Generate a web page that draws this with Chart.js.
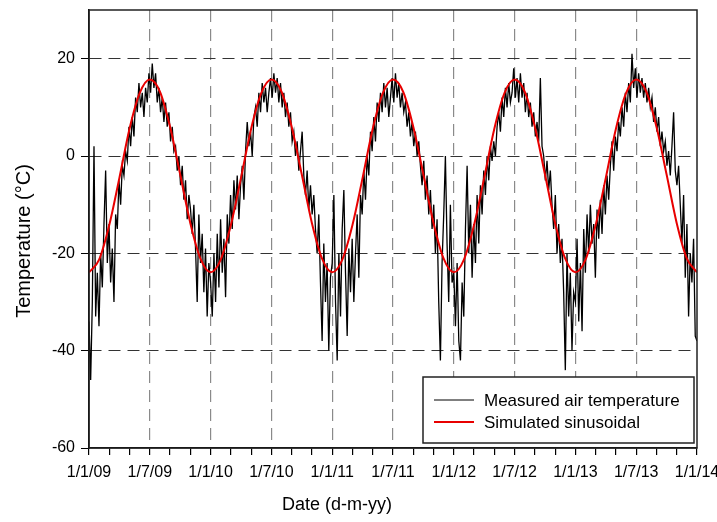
<!DOCTYPE html>
<html lang="en">
<head>
    <meta charset="UTF-8">
    <title>Measured vs simulated air temperature</title>
    <style>
        body { margin: 0; background: #fff; }
        #chart-container { width: 717px; height: 522px; }
    </style>
</head>
<body>
    <div id="chart-container">
        <canvas id="tempChart" width="717" height="522"></canvas>
    </div>

    <script src="https://cdn.jsdelivr.net/npm/chart.js"></script>

    <script>
        // Axis labels
        const xLabels = ['1/1/09', '1/7/09', '1/1/10', '1/7/10', '1/1/11', '1/7/11',
                         '1/1/12', '1/7/12', '1/1/13', '1/7/13', '1/1/14'];
        const yTicks = [-60, -40, -20, 0, 20];

        // Measured air temperature (°C), one value every 5 days from 1 January of each year
        const stepDays = 5;
        const measured2009 = [-34, -46, -30, 2, -33, -24, -35, -20, -27, -14, -3, -22, -14, -26, -19, -30, -12, -15, -5, -10,
                              -2, -4, 1, -1, 6, 2, 8, 4, 12, 9, 15, 10, 13, 8, 14, 11, 17, 13, 19, 14,
                              17, 11, 14, 9, 12, 7, 11, 6, 9, 3, 6, 1, 2, -3, 0, -6, -2, -9, -5, -13,
                              -8, -11, -16, -10, -19, -30, -12, -22, -16, -28, -19, -33, -22];
        const measured2010 = [-26, -33, -20, -30, -16, -27, -13, -24, -17, -29, -12, -18, -8, -15, -5, -11, -4, -13, -6, -2,
                              -9, 1, 7, 2, 5, 0, 8, 10, 6, 13, 9, 15, 11, 14, 9, 13, 16, 12, 17, 13,
                              16, 11, 15, 10, 13, 8, 11, 6, 9, 3, 5, 0, 3, -3, 1, 5, -4, -8, -3, -11,
                              -6, -12, -8, -15, -20, -12, -26, -38, -18, -30, -22, -40, -25];
        const measured2011 = [-22, -8, -30, -42, -20, -33, -15, -7, -24, -37, -19, -28, -17, -30, -20, -12, -25, -8, -12, -3,
                              -9, 0, -4, 5, 1, 8, 3, 11, 7, 13, 9, 15, 10, 14, 8, 12, 16, 11, 17, 12,
                              15, 10, 13, 9, 11, 6, 9, 4, 7, 2, 5, 0, 3, -2, -6, -1, -9, -4, -12, -7,
                              -15, -10, -20, -13, -30, -42, -22, -12, 0, -18, -30, -10, -26];
        const measured2012 = [-24, -35, -22, -38, -42, -26, -33, -15, -2, -20, -10, -25, -14, -22, -8, -18, -6, -12, -3, -8,
                              0, -5, 2, -1, 3, 0, 6, 9, 5, 12, 8, 14, 10, 15, 11, 13, 18, 12, 16, 11,
                              17, 12, 15, 9, 13, 8, 11, 6, 9, 4, 7, 3, 16, 2, 0, -5, -1, -7, -3, -10,
                              -15, -8, -20, -14, -22, -17, -28, -44, -20, -33, -24, -40, -28];
        const measured2013 = [-30, -17, -34, -22, -36, -15, -24, -12, -20, -10, -18, -14, -25, -11, -17, -9, -16, -6, -12, -4,
                              -9, -2, 3, -3, 4, 1, 7, 4, 10, 6, 13, 9, 15, 11, 21, 14, 18, 12, 17, 13,
                              16, 12, 15, 11, 14, 10, 12, 7, 10, 5, 8, 2, 5, 1, 3, -2, 1, -4, 2, 9,
                              -3, -6, -2, -10, -18, -8, -25, -14, -33, -20, -26, -17, -37];
        const measured2014 = [-38];

        // Simulated sinusoidal (°C), one value per month from 1/1/09 to 1/1/14
        const simulatedMonthly = [
            -23.9, -21.3, -14.2, -4.5, 5.6, 12.9, 15.7, 13.2, 6.0, -3.8, -13.8, -21.1,
            -23.9, -21.3, -14.2, -4.5, 5.6, 12.9, 15.7, 13.2, 6.0, -3.8, -13.8, -21.1,
            -23.9, -21.3, -14.2, -4.5, 5.6, 12.9, 15.7, 13.2, 6.0, -3.8, -13.8, -21.1,
            -23.9, -21.3, -14.2, -4.5, 5.6, 12.9, 15.7, 13.2, 6.0, -3.8, -13.8, -21.1,
            -23.9, -21.3, -14.2, -4.5, 5.6, 12.9, 15.7, 13.2, 6.0, -3.8, -13.8, -21.1,
            -23.9
        ];

        // x axis runs in months since 1/1/09
        const measuredYears = [measured2009, measured2010, measured2011, measured2012, measured2013, measured2014];
        const measuredPoints = [];
        measuredYears.forEach((vals, k) => {
            vals.forEach((v, j) => {
                measuredPoints.push({ x: 12 * k + j * stepDays * 12 / 365.25, y: v });
            });
        });
        const simulatedPoints = simulatedMonthly.map((v, i) => ({ x: i, y: v }));

        const FONT = "'Liberation Sans', Arial, sans-serif";
        Chart.defaults.font.family = FONT;
        Chart.defaults.color = '#000';

        // frame, axis titles and the legend box inside the plot
        const decorations = {
            id: 'decorations',
            afterDraw(chart) {
                const { ctx, chartArea: ca } = chart;
                ctx.save();
                ctx.strokeStyle = '#222';
                ctx.lineWidth = 1.5;
                ctx.strokeRect(ca.left, ca.top, ca.right - ca.left, ca.bottom - ca.top);

                ctx.fillStyle = '#000';
                ctx.textAlign = 'center';
                ctx.textBaseline = 'middle';
                ctx.font = '18px ' + FONT;
                ctx.fillText('Date (d-m-yy)', ca.left + 248, 505);

                ctx.save();
                ctx.translate(24, 241);
                ctx.rotate(-Math.PI / 2);
                ctx.font = '20px ' + FONT;
                ctx.fillText('Temperature (°C)', 0, 0);
                ctx.restore();

                // legend
                const bx = ca.right - 274, by = ca.bottom - 71, bw = 271, bh = 66;
                ctx.fillStyle = '#fff';
                ctx.fillRect(bx, by, bw, bh);
                ctx.strokeStyle = '#222';
                ctx.lineWidth = 1.5;
                ctx.strokeRect(bx, by, bw, bh);
                ctx.font = '17px ' + FONT;
                ctx.textAlign = 'left';
                chart.data.datasets.forEach((ds, i) => {
                    const ly = by + 23 + i * 22;
                    ctx.strokeStyle = ds.borderColor;
                    ctx.lineWidth = i === 0 ? 1 : ds.borderWidth;
                    ctx.beginPath();
                    ctx.moveTo(bx + 11, ly);
                    ctx.lineTo(bx + 51, ly);
                    ctx.stroke();
                    ctx.fillStyle = '#000';
                    ctx.fillText(ds.label, bx + 61, ly + 1);
                });
                ctx.restore();
            }
        };

        const ctx = document.getElementById('tempChart').getContext('2d');
        const tempChart = new Chart(ctx, {
            type: 'line',
            data: {
                datasets: [{
                    label: 'Measured air temperature',
                    data: measuredPoints,
                    borderColor: '#000',
                    borderWidth: 1.3,
                    pointRadius: 0,
                    tension: 0,
                    order: 2
                }, {
                    label: 'Simulated sinusoidal',
                    data: simulatedPoints,
                    borderColor: '#e80000',
                    borderWidth: 2,
                    pointRadius: 0,
                    cubicInterpolationMode: 'monotone',
                    order: 1
                }]
            },
            options: {
                responsive: false,
                animation: false,
                devicePixelRatio: 1,
                layout: { padding: { top: 10, right: 20, left: 0, bottom: 0 } },
                plugins: {
                    legend: { display: false },
                    tooltip: { enabled: false }
                },
                scales: {
                    x: {
                        type: 'linear',
                        min: 0,
                        max: 60,
                        ticks: {
                            stepSize: 2,
                            autoSkip: false,
                            maxRotation: 0,
                            padding: 8,
                            font: { size: 16 },
                            callback: (v) => (v % 6 === 0 ? xLabels[v / 6] : '')
                        },
                        grid: {
                            color: (c) => (c.tick && c.tick.value % 6 === 0 && c.tick.value > 0 && c.tick.value < 60 ? '#8a8a8a' : 'rgba(0,0,0,0)'),
                            lineWidth: 1.2,
                            tickColor: '#000',
                            tickLength: 7
                        },
                        border: { color: '#000', width: 1.5, dash: [12, 7] },
                        afterFit: (scale) => {
                            scale.height = 74;
                            scale.paddingLeft = 0;
                            scale.paddingRight = 0;
                        }
                    },
                    y: {
                        min: -60,
                        max: 30,
                        afterBuildTicks: (scale) => {
                            scale.ticks = yTicks.map((v) => ({ value: v }));
                        },
                        ticks: {
                            padding: 6,
                            font: { size: 16 }
                        },
                        grid: {
                            color: (c) => (c.tick && c.tick.value > -60 ? '#333' : 'rgba(0,0,0,0)'),
                            lineWidth: 1,
                            tickColor: '#000',
                            tickLength: 8
                        },
                        border: { color: '#000', width: 1.5, dash: [12, 7] },
                        afterFit: (scale) => {
                            scale.width = 89;
                            scale.paddingTop = 0;
                            scale.paddingBottom = 0;
                        }
                    }
                }
            },
            plugins: [decorations]
        });
    </script>
</body>
</html>
